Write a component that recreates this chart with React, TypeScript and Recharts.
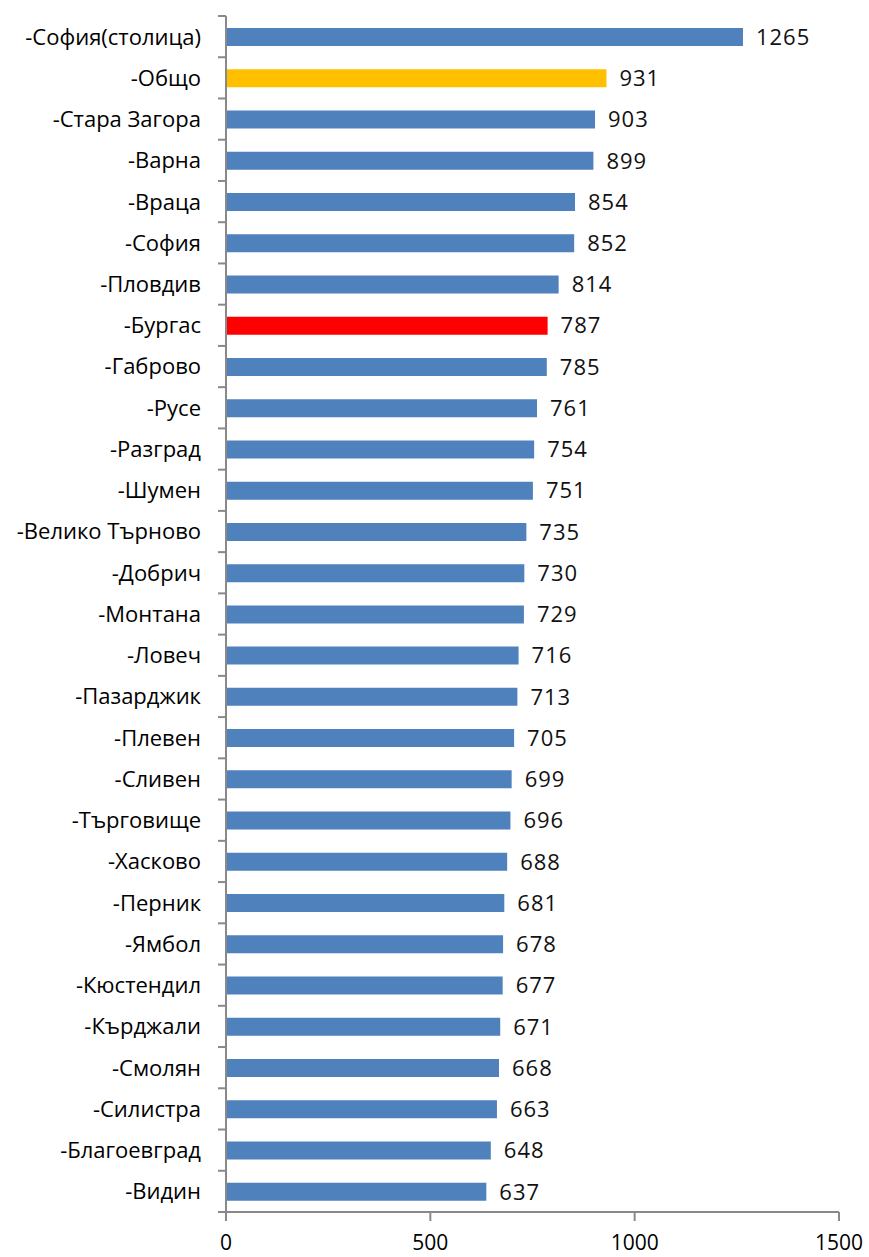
import React from 'react';
import { BarChart, Bar, XAxis, YAxis, Cell, LabelList } from 'recharts';

const categories = [
  '-София(столица)', '-Общо', '-Стара Загора', '-Варна', '-Враца', '-София', '-Пловдив',
  '-Бургас', '-Габрово', '-Русе', '-Разград', '-Шумен', '-Велико Търново', '-Добрич',
  '-Монтана', '-Ловеч', '-Пазарджик', '-Плевен', '-Сливен', '-Търговище', '-Хасково',
  '-Перник', '-Ямбол', '-Кюстендил', '-Кърджали', '-Смолян', '-Силистра', '-Благоевград', '-Видин',
];
const values = [
  1265, 931, 903, 899, 854, 852, 814, 787, 785, 761, 754, 751, 735, 730, 729, 716, 713, 705,
  699, 696, 688, 681, 678, 677, 671, 668, 663, 648, 637,
];
const xTicks = [0, 500, 1000, 1500];
const totalCategory = '-Общо';
const highlightCategory = '-Бургас';

const data = categories.map((name, i) => ({ name, value: values[i] }));

const FONT = '"Open Sans", "Noto Sans", sans-serif';
const AXIS = '#898989';
const TOP = 16;
const HEIGHT = 1257;
const XAXIS_H = 45;
const AXIS_X = 226;
const BAND = (HEIGHT - XAXIS_H - TOP) / categories.length;

const colorFor = (name: string) =>
  name === totalCategory ? '#FFC000' : name === highlightCategory ? '#FF0000' : '#4F81BD';

const YTick = (props: any) => {
  const { y, payload, index } = props;
  const last = index === categories.length - 1;
  return (
    <g>
      <line x1={AXIS_X - 8} x2={AXIS_X} y1={y - BAND / 2} y2={y - BAND / 2} stroke={AXIS} strokeWidth={2} />
      {last && (
        <line x1={AXIS_X - 8} x2={AXIS_X} y1={y + BAND / 2} y2={y + BAND / 2} stroke={AXIS} strokeWidth={2} />
      )}
      <text x={AXIS_X - 25} y={y} dy="0.36em" textAnchor="end" fill="#000" fontSize={22} fontFamily={FONT}>
        {payload.value}
      </text>
    </g>
  );
};

export default function App() {
  return (
    <div style={{ position: 'absolute', left: 0, top: 0, background: '#fff' }}>
      <BarChart
        width={869}
        height={HEIGHT}
        data={data}
        layout="vertical"
        margin={{ top: TOP, right: 30, bottom: 0, left: 0 }}
      >
        <XAxis
          type="number"
          domain={[0, 1500]}
          ticks={xTicks}
          height={XAXIS_H}
          tickSize={9}
          tickMargin={14}
          axisLine={{ stroke: AXIS, strokeWidth: 2 }}
          tickLine={{ stroke: AXIS, strokeWidth: 2 }}
          tick={{ fill: '#000', fontSize: 21, fontFamily: FONT }}
          interval={0}
        />
        <YAxis
          type="category"
          dataKey="name"
          width={AXIS_X}
          interval={0}
          tickLine={false}
          axisLine={{ stroke: AXIS, strokeWidth: 2 }}
          tick={<YTick />}
        />
        <Bar dataKey="value" barSize={18} isAnimationActive={false}>
          {data.map((d) => (
            <Cell key={d.name} fill={colorFor(d.name)} />
          ))}
          <LabelList
            dataKey="value"
            position="right"
            offset={13}
            fill="#111"
            fontSize={22}
            fontWeight={500}
            letterSpacing={1}
            fontFamily={FONT}
          />
        </Bar>
      </BarChart>
    </div>
  );
}
